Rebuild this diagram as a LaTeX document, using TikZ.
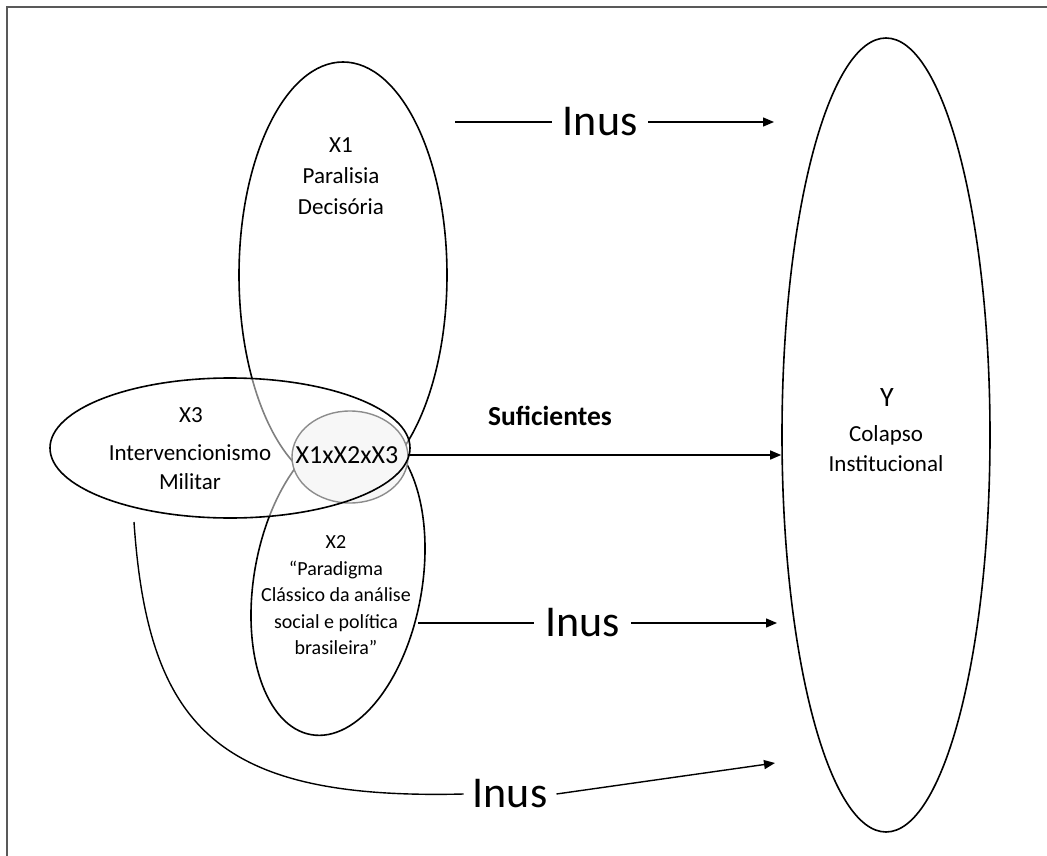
\documentclass[tikz,border=0pt]{standalone}
\usepackage{fontspec}
\setmainfont{Carlito}
\usetikzlibrary{shapes.geometric,arrows.meta}
\begin{document}
\begin{tikzpicture}[x=1pt,y=-1pt,
  shp/.style={ellipse, draw=black, line width=1.6pt, inner sep=0pt},
  conn/.style={line width=1.4pt},
  arr/.style={conn, -{Triangle[length=11pt,width=9pt]}},
  lab/.style={font=\fontsize{44}{50}\selectfont, fill=white, inner xsep=11pt, inner ysep=2pt},
  txt/.style={font=\fontsize{23}{31}\selectfont, align=center, inner sep=0pt},
  frame/.style={line width=2.5pt, draw=black!65}
]
\useasboundingbox (0,0) rectangle (1047,856);
\draw[frame] (7,856) -- (7,7) -- (1047,7);

% ellipses
\node[shp, minimum width=208pt, minimum height=426pt] (X1) at (343,275) {};
\node[shp, minimum width=168pt, minimum height=310pt, rotate=-10] (X2) at (338,582) {};
\node[ellipse, fill=white, fill opacity=0.5, minimum width=360pt, minimum height=140pt, inner sep=0pt] (X3fill) at (230,448) {};
\node[ellipse, draw=black!45, line width=1.4pt, fill=black!3, minimum width=116pt, minimum height=92pt, inner sep=0pt] (I) at (350,457) {};
\node[shp, minimum width=360pt, minimum height=140pt] (X3) at (230,448) {};
\node[shp, minimum width=208pt, minimum height=794pt] (Y) at (886,435) {};

% texts
\node[txt] (t1) at (341,176) {X1\\Paralisia\\Decisória};
\node[txt] (t3) at (191,415) {X3};
\node[txt, font=\fontsize{23}{29}\selectfont] (t3b) at (190,467) {Intervencionismo\\Militar};
\node[font=\fontsize{26}{30}\selectfont, inner sep=0pt] (t12) at (347,455) {X1xX2xX3};
\node[txt, font=\fontsize{20}{26.5}\selectfont] (t2) at (336,595.5) {X2\\“Paradigma\\Clássico da análise\\social e política\\brasileira”};
\node[font=\fontsize{28}{30}\selectfont, inner sep=0pt] (ty) at (887,398) {Y};
\node[txt, font=\fontsize{23}{30}\selectfont] (ty2) at (886,449) {Colapso\\Institucional};
\node[font=\bfseries\fontsize{27.5}{30}\selectfont, inner sep=0pt] (ts) at (550,416) {Suficientes};

% connectors
\coordinate (a1) at (455,122);
\coordinate (b1) at (774,122);
\draw[arr] (a1) -- node[lab, pos=0.455] (inus1) {Inus} (b1);

\coordinate (cross) at (408,455);
\draw[arr] (cross) -- (cross -| Y.west);

\coordinate (a2) at (418,623);
\coordinate (b2) at (777,623);
\draw[arr] (a2) -- node[lab, pos=0.458] (inus2) {Inus} (b2);

\coordinate (a3) at (134,522);
\node[lab, inner xsep=9pt] (inus3) at (510,794) {Inus};
\coordinate (b3) at (775,763);
\draw[conn] (a3) .. controls (148,730) and (220,800) .. (inus3.west);
\draw[arr] (inus3.east) -- (b3);
\end{tikzpicture}
\end{document}
